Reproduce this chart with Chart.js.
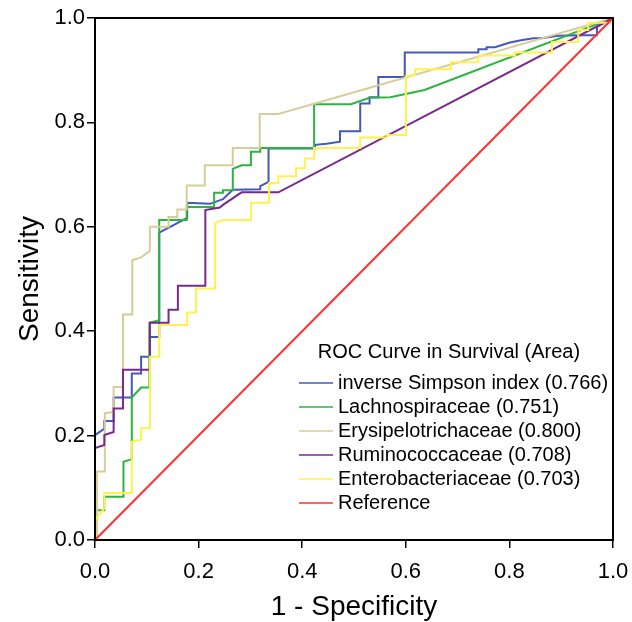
<!DOCTYPE html>
<html lang="en">
<head>
    <meta charset="UTF-8">
    <title>ROC Curve in Survival</title>
    <script src="https://cdn.jsdelivr.net/npm/chart.js"></script>
    <style>
        body {
            margin: 0;
            background: #fff;
        }
        canvas {
            display: block;
        }
    </style>
</head>
<body>
    <canvas id="rocChart" width="632" height="622"></canvas>
    <script>
        // ROC curve points (1 - specificity, sensitivity)
        const simpsonX = [0, 0, 0.018, 0.018, 0.036, 0.036, 0.071, 0.071, 0.089, 0.089, 0.106, 0.106, 0.124, 0.124, 0.178, 0.178, 0.222, 0.247, 0.266, 0.319, 0.319, 0.335, 0.335, 0.425, 0.425, 0.447, 0.473, 0.473, 0.512, 0.512, 0.530, 0.530, 0.547, 0.547, 0.598, 0.598, 0.740, 0.740, 0.756, 0.756, 0.772, 0.801, 0.820, 0.846, 0.862, 0.894, 0.936, 0.969, 0.969, 1];
        const simpsonY = [0, 0.201, 0.213, 0.228, 0.228, 0.273, 0.273, 0.319, 0.319, 0.351, 0.351, 0.389, 0.389, 0.589, 0.617, 0.646, 0.644, 0.653, 0.671, 0.672, 0.678, 0.686, 0.750, 0.750, 0.757, 0.759, 0.763, 0.783, 0.783, 0.836, 0.836, 0.848, 0.848, 0.887, 0.887, 0.934, 0.934, 0.940, 0.940, 0.944, 0.944, 0.953, 0.957, 0.961, 0.961, 0.966, 0.967, 0.967, 0.983, 1];

        const lachnoX = [0, 0, 0.018, 0.018, 0.055, 0.055, 0.071, 0.071, 0.089, 0.105, 0.105, 0.124, 0.124, 0.177, 0.177, 0.230, 0.230, 0.247, 0.247, 0.266, 0.266, 0.283, 0.301, 0.301, 0.319, 0.319, 0.423, 0.423, 0.494, 0.530, 0.570, 0.636, 1];
        const lachnoY = [0, 0.057, 0.057, 0.083, 0.083, 0.150, 0.155, 0.273, 0.292, 0.292, 0.416, 0.421, 0.613, 0.613, 0.638, 0.638, 0.665, 0.665, 0.670, 0.670, 0.711, 0.718, 0.718, 0.744, 0.744, 0.751, 0.751, 0.835, 0.835, 0.847, 0.848, 0.862, 1];

        const erysiX = [0, 0.004, 0.004, 0.019, 0.019, 0.036, 0.036, 0.054, 0.054, 0.072, 0.072, 0.090, 0.106, 0.106, 0.142, 0.142, 0.159, 0.159, 0.177, 0.177, 0.212, 0.212, 0.266, 0.266, 0.318, 0.318, 0.354, 1];
        const erysiY = [0, 0, 0.131, 0.131, 0.243, 0.245, 0.293, 0.293, 0.432, 0.432, 0.536, 0.542, 0.554, 0.600, 0.600, 0.619, 0.619, 0.633, 0.633, 0.679, 0.679, 0.718, 0.718, 0.751, 0.751, 0.816, 0.816, 1];

        const rumiX = [0, 0, 0.018, 0.018, 0.036, 0.036, 0.054, 0.054, 0.105, 0.106, 0.142, 0.142, 0.160, 0.160, 0.213, 0.213, 0.241, 0.247, 0.283, 0.354, 1];
        const rumiY = [0, 0.176, 0.182, 0.201, 0.207, 0.252, 0.252, 0.326, 0.326, 0.416, 0.416, 0.441, 0.441, 0.487, 0.487, 0.632, 0.637, 0.642, 0.666, 0.666, 1];

        const enteroX = [0, 0, 0.018, 0.018, 0.071, 0.071, 0.089, 0.089, 0.106, 0.106, 0.124, 0.124, 0.178, 0.178, 0.195, 0.195, 0.232, 0.232, 0.248, 0.301, 0.301, 0.336, 0.336, 0.354, 0.354, 0.388, 0.388, 0.405, 0.405, 0.423, 0.423, 0.512, 0.512, 0.563, 0.563, 0.600, 0.600, 0.618, 0.618, 0.687, 0.687, 0.740, 0.740, 0.811, 0.811, 0.882, 0.882, 0.933, 0.933, 0.952, 0.952, 1, 1];
        const enteroY = [0, 0.038, 0.061, 0.090, 0.090, 0.188, 0.192, 0.214, 0.214, 0.351, 0.351, 0.412, 0.412, 0.436, 0.436, 0.482, 0.482, 0.607, 0.613, 0.613, 0.646, 0.646, 0.684, 0.684, 0.697, 0.697, 0.712, 0.712, 0.731, 0.731, 0.751, 0.751, 0.771, 0.771, 0.776, 0.776, 0.888, 0.891, 0.902, 0.902, 0.915, 0.915, 0.928, 0.928, 0.934, 0.934, 0.954, 0.954, 0.977, 0.977, 0.991, 0.991, 1];

        const referenceX = [0, 1];
        const referenceY = [0, 1];

        const seriesLabels = [
            'inverse Simpson index (0.766)',
            'Lachnospiraceae (0.751)',
            'Erysipelotrichaceae (0.800)',
            'Ruminococcaceae (0.708)',
            'Enterobacteriaceae (0.703)',
            'Reference'
        ];
        const seriesColors = ['#4558BC', '#2BB540', '#D6CE9A', '#7A2A8C', '#FFF24E', '#FF3030'];
        const tickValues = [0, 0.2, 0.4, 0.6, 0.8, 1.0];
        const legendTitle = 'ROC Curve in Survival (Area)';

        const fontFamily = 'Arial, "Liberation Sans", sans-serif';
        Chart.defaults.font.family = fontFamily;
        Chart.defaults.color = '#000';

        function toPoints(xs, ys) {
            return xs.map((x, i) => ({ x: x, y: ys[i] }));
        }

        const allSeries = [
            [simpsonX, simpsonY],
            [lachnoX, lachnoY],
            [erysiX, erysiY],
            [rumiX, rumiY],
            [enteroX, enteroY],
            [referenceX, referenceY]
        ];

        const datasets = allSeries.map((s, i) => ({
            label: seriesLabels[i],
            data: toPoints(s[0], s[1]),
            borderColor: seriesColors[i],
            borderWidth: 2,
            pointRadius: 0,
            tension: 0,
            fill: false,
            order: allSeries.length - i   // later series on top
        }));

        // legend drawn inside the plot, plus the closed frame
        const rocLegend = {
            id: 'rocLegend',
            afterDatasetsDraw(chart) {
                const ctx = chart.ctx;
                const a = chart.chartArea;
                ctx.save();
                ctx.strokeStyle = '#000';
                ctx.lineWidth = 2;
                ctx.strokeRect(a.left, a.top, a.right - a.left, a.bottom - a.top);

                ctx.font = '20px ' + fontFamily;
                ctx.fillStyle = '#000';
                ctx.textBaseline = 'middle';
                ctx.textAlign = 'center';
                ctx.fillText(legendTitle, 449, 352);
                ctx.textAlign = 'left';
                chart.data.datasets.forEach((ds, i) => {
                    const y = 383 + i * 24;
                    ctx.strokeStyle = ds.borderColor;
                    ctx.lineWidth = 1.5;
                    ctx.beginPath();
                    ctx.moveTo(299, y);
                    ctx.lineTo(333, y);
                    ctx.stroke();
                    ctx.fillText(ds.label, 338, y);
                });
                ctx.restore();
            }
        };

        const axisCommon = {
            type: 'linear',
            min: 0,
            max: 1,
            grid: {
                display: true,
                drawOnChartArea: false,
                drawTicks: true,
                tickLength: 8,
                color: '#000',
                lineWidth: 1.5
            },
            border: { display: true, color: '#000', width: 2 },
            afterBuildTicks: (scale) => {
                scale.ticks = tickValues.map(v => ({ value: v }));
            }
        };

        new Chart(document.getElementById('rocChart').getContext('2d'), {
            type: 'line',
            data: { datasets: datasets },
            options: {
                responsive: false,
                animation: false,
                layout: { padding: { left: 0, top: 18, right: 19, bottom: 0 } },
                plugins: {
                    legend: { display: false },
                    tooltip: { enabled: false }
                },
                scales: {
                    x: {
                        ...axisCommon,
                        ticks: {
                            font: { size: 22 },
                            padding: 11,
                            maxRotation: 0,
                            callback: v => v.toFixed(1)
                        },
                        title: {
                            display: true,
                            text: '1 - Specificity',
                            font: { size: 28 },
                            padding: { top: 0, bottom: -2 }
                        },
                        afterFit: (scale) => {
                            scale.height = 82;
                            scale.paddingLeft = 0;
                            scale.paddingRight = 0;
                        }
                    },
                    y: {
                        ...axisCommon,
                        ticks: {
                            font: { size: 22 },
                            padding: 2,
                            callback: v => v.toFixed(1)
                        },
                        title: {
                            display: true,
                            text: 'Sensitivity',
                            font: { size: 28 },
                            padding: { top: 13, bottom: 0 }
                        },
                        afterFit: (scale) => {
                            scale.width = 95;
                            scale.paddingTop = 0;
                            scale.paddingBottom = 0;
                        }
                    }
                }
            },
            plugins: [rocLegend]
        });
    </script>
</body>
</html>
